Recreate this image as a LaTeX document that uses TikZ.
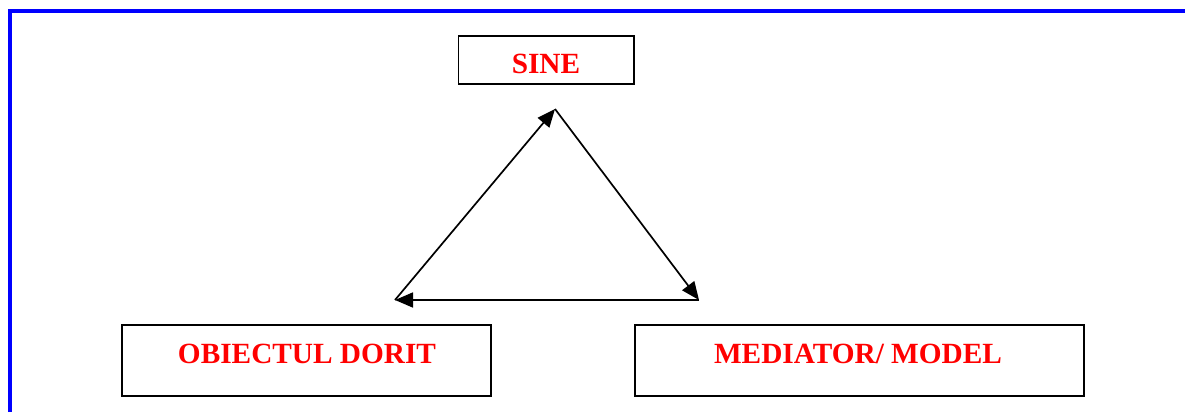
\documentclass[tikz,border=0pt]{standalone}
\usepackage{fontspec}
\setmainfont{Liberation Serif}
\usetikzlibrary{arrows.meta}
\begin{document}
\begin{tikzpicture}[x=1pt,y=-1pt,
  boxst/.style={draw=black,line width=1.8pt,fill=white},
  lbl/.style={text=red,font=\fontsize{29.3}{32}\selectfont\bfseries,anchor=base,inner sep=0pt},
  conn/.style={line width=1.7pt,-{Triangle[length=18pt,width=15pt]}}]
\useasboundingbox (0,0) rectangle (1185,412);
\fill[white] (0,0) rectangle (1185,412);
% blue frame
\draw[blue,line width=4.5pt] (10,412) -- (10,11) -- (1186,11);
% boxes
\draw[boxst] (458.5,36) rectangle (634,84);
\draw[boxst] (122,325) rectangle (491,396);
\draw[boxst] (635,325) rectangle (1084,396);
\node[lbl] (sine) at (546,74) {SINE};
\node[lbl] (obj) at (307,363) {OBIECTUL DORIT};
\node[lbl] (med) at (858,363) {MEDIATOR/ MODEL};
% triangle
\coordinate (apex) at (555,109);
\coordinate (lft) at (395,300);
\coordinate (rgt) at (699,300);
\draw[conn] (lft) -- (apex);
\draw[conn] (apex) -- (rgt);
\draw[conn] (rgt) -- (lft);
\end{tikzpicture}
\end{document}
